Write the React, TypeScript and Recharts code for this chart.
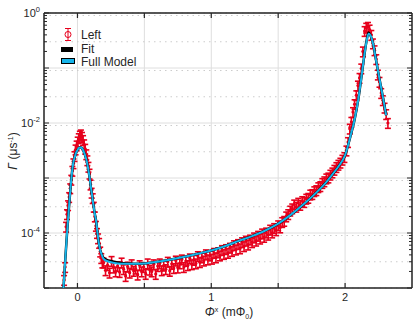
import React from "react";
import { ComposedChart, Line, Scatter, ErrorBar, XAxis, YAxis, CartesianGrid } from "recharts";

// measured points ("Left")
const leftX = [
  -0.1, -0.092, -0.085, -0.078, -0.07, -0.062, -0.054, -0.046, -0.038, -0.03, -0.022, -0.014, -0.006,
  0.002, 0.01, 0.018, 0.026, 0.034, 0.042, 0.05, 0.058, 0.066, 0.074, 0.082, 0.09, 0.098, 0.106, 0.114,
  0.122, 0.13, 0.138, 0.146, 0.154, 0.162, 0.17, 0.178, 0.186,
  0.195, 0.21, 0.225, 0.24, 0.255, 0.27, 0.285, 0.3, 0.315, 0.33, 0.345, 0.36, 0.375, 0.39, 0.405, 0.42,
  0.435, 0.45, 0.465, 0.48, 0.495, 0.51, 0.525, 0.54, 0.555, 0.57, 0.585, 0.6, 0.615, 0.63, 0.645, 0.66,
  0.675, 0.69, 0.705, 0.72, 0.735, 0.75, 0.765, 0.78, 0.795, 0.81, 0.825, 0.84, 0.855, 0.87, 0.885, 0.9,
  0.915, 0.93, 0.945, 0.96, 0.975, 0.99, 1.005, 1.02, 1.035, 1.05, 1.065, 1.08, 1.095, 1.11, 1.125, 1.14,
  1.155, 1.17, 1.185, 1.2, 1.215, 1.23, 1.245, 1.26, 1.275, 1.29, 1.305, 1.32, 1.335, 1.35, 1.365, 1.38,
  1.395, 1.41, 1.425, 1.44, 1.455, 1.47, 1.485, 1.5, 1.515, 1.53, 1.545, 1.56, 1.575, 1.59, 1.605, 1.62,
  1.635, 1.65, 1.665, 1.68, 1.695, 1.71, 1.725, 1.74, 1.755, 1.77, 1.785, 1.8, 1.815, 1.83, 1.845, 1.86,
  1.875, 1.89, 1.905, 1.92, 1.935, 1.95, 1.965, 1.98, 1.995,
  2.01, 2.022, 2.035, 2.047, 2.059, 2.071, 2.084, 2.096, 2.108, 2.121, 2.133, 2.146, 2.158, 2.171, 2.183,
  2.196, 2.208, 2.22, 2.233, 2.245, 2.257, 2.27, 2.282, 2.295, 2.307, 2.32,
];
const leftY = [
  1.4e-5, 2.4e-5, 1.3e-4, 2.2e-4, 3.2e-4, 4.5e-4, 6.5e-4, 9.3e-4, 1.35e-3, 1.85e-3, 2.5e-3, 3.3e-3, 3.9e-3,
  4.6e-3, 5.3e-3, 5.9e-3, 6.2e-3, 5.6e-3, 4.9e-3, 4.1e-3, 3.4e-3, 2.7e-3, 2.1e-3, 1.6e-3, 1.2e-3, 7.6e-4,
  5.4e-4, 4.3e-4, 3.0e-4, 2.0e-4, 1.35e-4, 1.0e-4, 8.0e-5, 6.6e-5, 4.6e-5, 3.5e-5, 2.9e-5,
  2.9e-5, 2.1e-5, 2.6e-5, 1.9e-5, 3.1e-5, 2.35e-5, 2.0e-5, 2.5e-5, 1.95e-5, 2.9e-5, 2.2e-5, 1.65e-5,
  2.45e-5, 1.9e-5, 2.7e-5, 2.05e-5, 2.25e-5, 1.75e-5, 2.6e-5, 2.0e-5, 2.4e-5, 1.8e-5, 2.8e-5, 2.15e-5,
  2.0e-5, 2.7e-5, 1.8e-5, 2.5e-5, 2.8e-5, 2.1e-5, 2.55e-5, 2.2e-5, 3.0e-5, 2.05e-5, 2.75e-5, 2.3e-5,
  3.15e-5, 2.35e-5, 2.8e-5, 3.3e-5, 2.4e-5, 3.1e-5, 2.6e-5, 3.45e-5, 2.7e-5, 3.25e-5, 2.8e-5, 3.8e-5,
  2.95e-5, 3.6e-5, 3.15e-5, 4.1e-5, 3.3e-5, 3.9e-5, 3.4e-5, 4.35e-5, 3.6e-5, 4.45e-5, 3.9e-5, 4.9e-5,
  4.15e-5, 5.1e-5, 4.35e-5, 5.4e-5, 4.7e-5, 6.0e-5, 5.0e-5, 6.3e-5, 5.25e-5, 6.8e-5, 5.75e-5, 7.25e-5,
  6.15e-5, 7.6e-5, 6.8e-5, 8.3e-5, 7.25e-5, 8.9e-5, 7.9e-5, 9.8e-5, 8.5e-5, 1.02e-4, 9.3e-5, 1.15e-4,
  1.02e-4, 1.23e-4, 1.12e-4, 1.38e-4, 1.26e-4, 1.58e-4, 1.66e-4, 2.0e-4, 2.2e-4, 2.55e-4, 2.8e-4, 3.3e-4,
  3.0e-4, 3.55e-4, 3.25e-4, 3.8e-4, 3.65e-4, 4.2e-4, 4.35e-4, 5.0e-4, 5.1e-4, 5.75e-4, 6.0e-4, 6.8e-4,
  7.1e-4, 8.1e-4, 8.7e-4, 9.8e-4, 1.02e-3, 1.15e-3, 1.26e-3, 1.41e-3, 1.58e-3, 1.74e-3, 1.9e-3, 2.15e-3,
  2.4e-3,
  3.16e-3, 4.5e-3, 7.9e-3, 1.05e-2, 1.58e-2, 2.2e-2, 3.2e-2, 4.8e-2, 6.6e-2, 9.8e-2, 0.2, 0.47, 0.54, 0.56,
  0.5, 0.4, 0.28, 0.21, 0.145, 7.6e-2, 5.6e-2, 3.5e-2, 2.6e-2, 1.9e-2, 1.45e-2, 1.0e-2,
];
const relErr = 0.2;

// model curves
const modelX = [
  -0.112, -0.1, -0.09, -0.08, -0.07, -0.06, -0.05, -0.04, -0.03, -0.02, -0.01, 0, 0.01, 0.02, 0.03, 0.04,
  0.05, 0.06, 0.07, 0.08, 0.09, 0.1, 0.11, 0.12, 0.13, 0.14, 0.15, 0.16, 0.17, 0.18, 0.19, 0.2, 0.22, 0.25,
  0.3, 0.35, 0.4, 0.45, 0.5, 0.6, 0.7, 0.8, 0.9, 1.0, 1.1, 1.2, 1.3, 1.4, 1.5, 1.6, 1.7, 1.8, 1.85, 1.9,
  1.95, 2.0, 2.04, 2.07, 2.1, 2.12, 2.14, 2.16, 2.175, 2.19, 2.21, 2.23, 2.25, 2.27, 2.29, 2.307,
];
const fullModelY = [
  5.6e-6, 1.45e-5, 3.6e-5, 8.3e-5, 1.8e-4, 3.7e-4, 7.4e-4, 1.32e-3, 1.95e-3, 2.4e-3, 2.9e-3, 3.2e-3, 3.5e-3,
  3.6e-3, 3.55e-3, 3.3e-3, 2.9e-3, 2.45e-3, 2.0e-3, 1.48e-3, 1.05e-3, 6.9e-4, 4.7e-4, 3.16e-4, 2.2e-4,
  1.62e-4, 1.0e-4, 6.5e-5, 4.9e-5, 4.1e-5, 3.55e-5, 3.3e-5, 3.1e-5, 2.95e-5, 2.8e-5, 2.75e-5, 2.75e-5,
  2.75e-5, 2.8e-5, 3.0e-5, 3.3e-5, 3.7e-5, 4.2e-5, 4.8e-5, 5.75e-5, 7.1e-5, 8.7e-5, 1.1e-4, 1.48e-4,
  2.2e-4, 3.5e-4, 5.9e-4, 7.9e-4, 1.12e-3, 1.62e-3, 2.6e-3, 5.75e-3, 1.12e-2, 2.8e-2, 6.3e-2, 0.145, 0.3,
  0.42, 0.39, 0.27, 0.145, 7.8e-2, 4.3e-2, 2.35e-2, 1.38e-2,
];
const fitY = [
  5.6e-6, 1.45e-5, 3.6e-5, 8.3e-5, 1.8e-4, 3.7e-4, 7.4e-4, 1.32e-3, 1.95e-3, 2.4e-3, 2.9e-3, 3.2e-3, 3.5e-3,
  3.6e-3, 3.55e-3, 3.3e-3, 2.9e-3, 2.45e-3, 2.0e-3, 1.48e-3, 1.05e-3, 6.9e-4, 4.7e-4, 3.16e-4, 2.2e-4,
  1.62e-4, 1.0e-4, 6.5e-5, 4.9e-5, 4.2e-5, 3.7e-5, 3.45e-5, 3.25e-5, 3.1e-5, 2.9e-5, 2.82e-5, 2.78e-5,
  2.75e-5, 2.8e-5, 3.0e-5, 3.3e-5, 3.7e-5, 4.2e-5, 4.8e-5, 5.75e-5, 7.1e-5, 8.7e-5, 1.1e-4, 1.48e-4,
  2.2e-4, 3.5e-4, 5.9e-4, 7.9e-4, 1.12e-3, 1.62e-3, 2.6e-3, 5.75e-3, 1.12e-2, 2.8e-2, 6.3e-2, 0.145, 0.31,
  0.44, 0.39, 0.27, 0.145, 7.8e-2, 4.3e-2, 2.35e-2, 1.38e-2,
];

// axes
const xDomain = [-0.25, 2.5];
const xTicks = [0, 0.5, 1, 1.5, 2];
const xLabelled = [0, 1, 2];
const yDomain = [1e-5, 1];
const yDecades = [1e-5, 1e-4, 1e-3, 1e-2, 1e-1, 1];
const yLabelledExp = [-4, -2, 0];
const yMantissas = [2, 3, 4, 5, 6, 7, 8, 9];
const yMinor = yDecades.slice(0, -1).flatMap((d) => yMantissas.map((m) => m * d));
const yAll = [...yDecades, ...yMinor];

const RED = "#e6001c";
const CYAN = "#16b4ea";
const AX = "#262626";
const FONT = "'Liberation Sans', Arial, sans-serif";

const scatterData = leftX.map((x, i) => ({ x, y: leftY[i], err: leftY[i] * relErr }));
const modelData = modelX.map((x, i) => ({ x, y: fullModelY[i] }));
const fitData = modelX.map((x, i) => ({ x, y: fitY[i] }));

const isDecade = (v: number) => {
  const e = Math.log10(v);
  return Math.abs(e - Math.round(e)) < 1e-6;
};

function LeftTick(props: any) {
  const { x, y, payload } = props;
  const major = isDecade(payload.value);
  const exp = Math.round(Math.log10(payload.value));
  return (
    <g>
      <line x1={x} x2={x + (major ? 5 : 3)} y1={y} y2={y} stroke={AX} strokeWidth={1} />
      {major && yLabelledExp.includes(exp) && (
        <text x={x - 4} y={y + 4} textAnchor="end" fontSize={11} fill={AX} fontFamily={FONT}>
          10
          <tspan dy={-5} fontSize={7.5}>
            {exp}
          </tspan>
        </text>
      )}
    </g>
  );
}

function RightTick(props: any) {
  const { x, y, payload } = props;
  const major = isDecade(payload.value);
  return <line x1={x} x2={x - (major ? 5 : 3)} y1={y} y2={y} stroke={AX} strokeWidth={1} />;
}

function BottomTick(props: any) {
  const { x, y, payload } = props;
  return (
    <g>
      <line x1={x} x2={x} y1={y} y2={y - 5} stroke={AX} strokeWidth={1.2} />
      {xLabelled.includes(payload.value) && (
        <text x={x} y={y + 13} textAnchor="middle" fontSize={11} fill={AX} fontFamily={FONT}>
          {payload.value}
        </text>
      )}
    </g>
  );
}

function TopTick(props: any) {
  const { x, y } = props;
  return <line x1={x} x2={x} y1={y} y2={y + 5} stroke={AX} strokeWidth={1.2} />;
}

const dot = (p: any) => <circle cx={p.cx} cy={p.cy} r={1.6} fill={RED} />;

export default function App() {
  const axisLine = { stroke: AX, strokeWidth: 1.5 };
  return (
    <div style={{ position: "absolute", left: 0, top: 0, width: 416, height: 325, background: "#fff" }}>
      <ComposedChart width={416} height={325} margin={{ top: 0, right: 0, bottom: 0, left: 0 }}>
        <YAxis yAxisId="major" type="number" dataKey="y" scale="log" domain={yDomain} allowDataOverflow ticks={yDecades} hide />
        <YAxis yAxisId="minor" type="number" dataKey="y" scale="log" domain={yDomain} allowDataOverflow ticks={yMinor} hide />
        <CartesianGrid xAxisId={0} yAxisId="major" stroke="#dedede" strokeWidth={1} />
        <CartesianGrid xAxisId={0} yAxisId="minor" vertical={false} stroke="#cccccc" strokeDasharray="1.5 4" />
        <XAxis
          xAxisId={0}
          dataKey="x"
          type="number"
          domain={xDomain}
          allowDataOverflow
          ticks={xTicks}
          interval={0}
          height={37}
          tickLine={false}
          tickSize={0}
          tickMargin={0}
          axisLine={axisLine}
          tick={BottomTick}
        />
        <XAxis
          xAxisId="top"
          orientation="top"
          dataKey="x"
          type="number"
          domain={xDomain}
          allowDataOverflow
          ticks={xTicks}
          interval={0}
          height={13}
          tickLine={false}
          tickSize={0}
          tickMargin={0}
          axisLine={axisLine}
          tick={TopTick}
        />
        <YAxis
          yAxisId={0}
          dataKey="y"
          type="number"
          scale="log"
          domain={yDomain}
          allowDataOverflow
          ticks={yAll}
          interval={0}
          width={44}
          tickLine={false}
          tickSize={0}
          tickMargin={0}
          axisLine={axisLine}
          tick={LeftTick}
        />
        <YAxis
          yAxisId="right"
          orientation="right"
          dataKey="y"
          type="number"
          scale="log"
          domain={yDomain}
          allowDataOverflow
          ticks={yAll}
          interval={0}
          width={4}
          tickLine={false}
          tickSize={0}
          tickMargin={0}
          axisLine={axisLine}
          tick={RightTick}
        />
        <Scatter data={scatterData} dataKey="y" shape={dot} isAnimationActive={false}>
          <ErrorBar dataKey="err" direction="y" width={3} stroke={RED} strokeWidth={1.6} />
        </Scatter>
        <Line data={fitData} dataKey="y" type="monotone" stroke="#000" strokeWidth={2.5} dot={false} activeDot={false} isAnimationActive={false} zIndex={700} />
        <Line data={modelData} dataKey="y" type="monotone" stroke={CYAN} strokeWidth={2} dot={false} activeDot={false} isAnimationActive={false} zIndex={710} />
      </ComposedChart>
      <svg width={416} height={325} style={{ position: "absolute", left: 0, top: 0, pointerEvents: "none" }} fontFamily={FONT}>
        <line x1={68} x2={68} y1={28.5} y2={40.5} stroke={RED} strokeWidth={1} />
        <line x1={65} x2={71} y1={28.5} y2={28.5} stroke={RED} strokeWidth={1} />
        <line x1={65} x2={71} y1={40.5} y2={40.5} stroke={RED} strokeWidth={1} />
        <circle cx={68} cy={34.5} r={3} fill="none" stroke={RED} strokeWidth={1} />
        <text x={81} y={39.3} fontSize={12} fill={AX}>Left</text>
        <rect x={61} y={47} width={12} height={5} fill="#000" />
        <text x={81} y={52.7} fontSize={12} fill={AX}>Fit</text>
        <rect x={61.5} y={58.5} width={13} height={5} fill={CYAN} stroke="#000" strokeWidth={1} />
        <text x={81} y={66} fontSize={12} fill={AX}>Full Model</text>
        <text x={229} y={316} textAnchor="middle" fontSize={12} fill={AX}>
          <tspan fontStyle="italic">Φ</tspan>
          <tspan dy={-4} fontSize={7}>x</tspan>
          <tspan dy={4}> (mΦ</tspan>
          <tspan dy={3} fontSize={7}>0</tspan>
          <tspan dy={-3}>)</tspan>
        </text>
        <text transform="translate(17,151) rotate(-90)" textAnchor="middle" fontSize={12} fill={AX}>
          <tspan fontStyle="italic">Γ</tspan>
          <tspan> (μs</tspan>
          <tspan dy={-4} fontSize={7}>-1</tspan>
          <tspan dy={4}>)</tspan>
        </text>
      </svg>
    </div>
  );
}
